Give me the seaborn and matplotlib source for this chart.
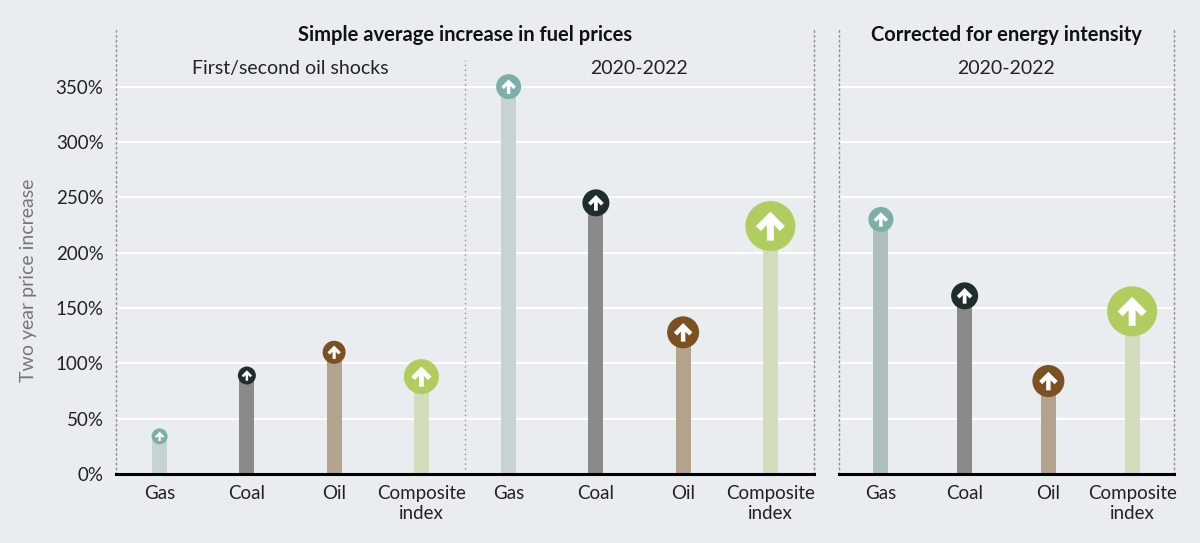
import numpy as np
import pandas as pd
import matplotlib
matplotlib.use("Agg")
import matplotlib.pyplot as plt
from matplotlib.path import Path
from matplotlib.markers import MarkerStyle
import seaborn as sns

# data
fuels = ["Gas", "Coal", "Oil", "Composite index"]
tick_labels = ["Gas", "Coal", "Oil", "Composite\nindex"]
oil_shocks = [34, 89, 110, 88]
simple_2020_22 = [350, 245, 128, 224]
corrected_2020_22 = [230, 161, 84, 147]
y_ticks = [0, 50, 100, 150, 200, 250, 300, 350]

# circle diameters in pixels (style only)
dot_px_shock = [16, 18, 23, 35]
dot_px_recent = [25, 27, 32, 50]

bg = "#e9edf0"
stem_pal = {"Gas": "#c5d5d5", "Coal": "#8a8a8a", "Oil": "#b9a487", "Composite index": "#d5e2b9"}
stem_pal_right = dict(stem_pal, Gas="#a9c2c1")
dot_pal = {"Gas": "#7eaeaa", "Coal": "#1f2d2d", "Oil": "#7b5122", "Composite index": "#b1cc5f"}

# thick up-arrow used as a marker inside each circle
arrow_verts = [(0, 0.5), (0.5, 0.0), (0.33, -0.17), (0.12, 0.04), (0.12, -0.5),
               (-0.12, -0.5), (-0.12, 0.04), (-0.33, -0.17), (-0.5, 0.0), (0, 0.5)]
arrow_marker = MarkerStyle(Path(arrow_verts, closed=True))

sns.set_style("white")
plt.rcParams["font.family"] = ["Lato", "DejaVu Sans"]

fig = plt.figure(figsize=(12, 5.43), dpi=100, facecolor=bg)
ax1 = fig.add_axes([116 / 1200, 69 / 543, 698 / 1200, 446 / 543])
ax2 = fig.add_axes([839 / 1200, 69 / 543, 335 / 1200, 446 / 543])

left = pd.DataFrame({
    "pos": np.arange(8),
    "fuel": fuels * 2,
    "value": oil_shocks + simple_2020_22,
    "dot": dot_px_shock + dot_px_recent,
})
right = pd.DataFrame({
    "pos": np.arange(4),
    "fuel": fuels,
    "value": corrected_2020_22,
    "dot": dot_px_recent,
})


def draw_panel(ax, df, stems, width):
    sns.barplot(data=df, x="pos", y="value", hue="fuel", palette=stems, dodge=False,
                width=width, legend=False, errorbar=None, linewidth=0, ax=ax, zorder=2)
    dots = df["dot"].to_numpy() * 0.72
    sns.scatterplot(data=df, x="pos", y="value", hue="fuel", palette=dot_pal, s=dots ** 2,
                    linewidth=0, legend=False, ax=ax, zorder=3, clip_on=False)
    sns.scatterplot(data=df, x="pos", y="value", marker=arrow_marker, s=(dots * 0.58) ** 2,
                    color="white", linewidth=0, legend=False, ax=ax, zorder=4, clip_on=False)

    n = len(df)
    ax.set_facecolor(bg)
    ax.set_xlim(-0.5, n - 0.5)
    ax.set_ylim(0, 403)
    ax.set_xticks(np.arange(n))
    ax.set_xticklabels((tick_labels * 2)[:n], fontsize=13.5, color="#222")
    ax.set_xticks(np.arange(n + 1) - 0.5, minor=True)
    ax.tick_params(axis="x", which="major", length=0, pad=8)
    ax.tick_params(axis="x", which="minor", length=5, width=1.5, color="black", direction="out")
    ax.set_yticks(y_ticks)
    ax.yaxis.grid(True, color="white", linewidth=1.5)
    ax.set_axisbelow(True)
    ax.set_xlabel("")
    ax.set_ylabel("")
    ax.spines["top"].set_visible(False)
    ax.spines["bottom"].set_color("black")
    ax.spines["bottom"].set_linewidth(2.2)
    for s in ("left", "right"):
        ax.spines[s].set_color("#8f8f8f")
        ax.spines[s].set_linewidth(1)
        ax.spines[s].set_linestyle((0, (1, 2.5)))


draw_panel(ax1, left, stem_pal, 0.17)
draw_panel(ax2, right, stem_pal_right, 0.18)

ax1.set_yticklabels([f"{t}%" for t in y_ticks], fontsize=13.5, color="#222")
ax1.tick_params(axis="y", length=0, pad=9)
ax2.tick_params(axis="y", length=0, labelleft=False)
ax1.set_ylabel("Two year price increase", fontsize=14, color="#777")
ax1.yaxis.set_label_coords(-0.113, 0.435)

ax1.axvline(3.5, ymin=0, ymax=0.928, color="#8f8f8f", linewidth=1, linestyle=(0, (1, 2.5)))

ax1.text(0.5, 0.984, "Simple average increase in fuel prices", transform=ax1.transAxes,
         ha="center", va="center", fontsize=14.5, fontweight="bold", color="#111")
ax2.text(0.5, 0.984, "Corrected for energy intensity", transform=ax2.transAxes,
         ha="center", va="center", fontsize=14.5, fontweight="bold", color="#111")
ax1.text(1.5, 0.910, "First/second oil shocks", transform=ax1.get_xaxis_transform(),
         ha="center", va="center", fontsize=14, color="#222")
ax1.text(5.5, 0.910, "2020-2022", transform=ax1.get_xaxis_transform(),
         ha="center", va="center", fontsize=14, color="#222")
ax2.text(0.5, 0.910, "2020-2022", transform=ax2.transAxes,
         ha="center", va="center", fontsize=14, color="#222")

fig.savefig("out.png", dpi=100, facecolor=bg)
